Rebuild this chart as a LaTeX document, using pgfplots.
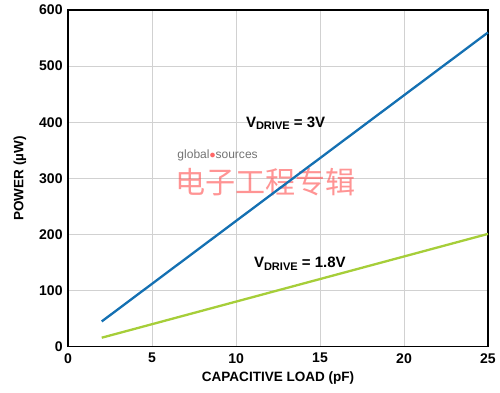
\documentclass[border=0pt]{standalone}
\usepackage{pgfplots}
\pgfplotsset{compat=1.18}
\usepackage{fontspec}
\setmainfont{Liberation Sans}
\newfontfamily\cjk{Noto Sans CJK SC}
\definecolor{bluel}{RGB}{20,112,178}
\definecolor{greenl}{RGB}{166,206,57}
\newcommand{\vd}[1]{\fontsize{15}{17}\selectfont V\raisebox{-2.5pt}{\fontsize{11}{12}\selectfont DRIVE}\fontsize{15}{17}\selectfont{} = #1}
\begin{document}
\begin{tikzpicture}
\begin{axis}[
  scale only axis,
  width=419pt, height=336pt,
  xmin=0, xmax=25, ymin=0, ymax=600,
  xtick={0,5,...,25}, ytick={0,100,...,600},
  grid=major,
  major grid style={draw=black!18, line width=0.8pt},
  axis line style={line width=1.6pt},
  tick style={draw=none},
  ticklabel style={font=\fontsize{14}{16}\selectfont\bfseries},
  xticklabel style={yshift=-3pt},
  yticklabel style={xshift=-2pt},
  /pgf/number format/assume math mode=true,
  xlabel={CAPACITIVE LOAD (pF)},
  ylabel={POWER (\textmu W)},
  label style={font=\fontsize{13.5}{15}\selectfont\bfseries},
  xlabel style={yshift=-2pt},
  ylabel style={yshift=6pt},
  clip=false,
]
\node[text=black!55, font=\fontsize{12}{13}\selectfont, anchor=center] at (axis cs:8.9,341) {global\textcolor{red!60}{$\bullet$}sources};
\node[text=red!70, opacity=0.6, font=\cjk\fontsize{30}{32}\selectfont] at (axis cs:11.75,294) {电子工程专辑};
\addplot[bluel, line width=2.3pt] coordinates {(2,45) (25,560)};
\addplot[greenl, line width=2.3pt] coordinates {(2,16) (25,201)};
\node[font=\bfseries] at (axis cs:12.95,398) {\bfseries\vd{3V}};
\node[font=\bfseries] at (axis cs:13.8,148) {\bfseries\vd{1.8V}};
\end{axis}
\pgfresetboundingbox
\path ([shift={(-68pt,-46pt)}]current axis.south west) rectangle ([shift={(12pt,10pt)}]current axis.north east);
\end{tikzpicture}
\end{document}
